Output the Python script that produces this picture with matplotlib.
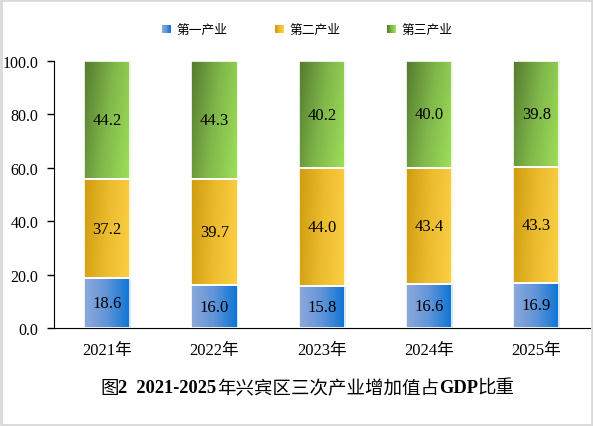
import numpy as np
import matplotlib
matplotlib.use("Agg")
import matplotlib.pyplot as plt
from matplotlib.colors import LinearSegmentedColormap
from matplotlib.patches import Rectangle

# data
years = ["2021年", "2022年", "2023年", "2024年", "2025年"]
primary = [18.6, 16.0, 15.8, 16.6, 16.9]
secondary = [37.2, 39.7, 44.0, 43.4, 43.3]
tertiary = [44.2, 44.3, 40.2, 40.0, 39.8]
series_names = ["第一产业", "第二产业", "第三产业"]
yticks = [0, 20, 40, 60, 80, 100]

serif_cjk = ["Liberation Serif", "Noto Sans CJK SC", "DejaVu Sans"]
plt.rcParams["font.family"] = serif_cjk

# gradient colours (left/top-left -> right)
grads = [
    ["#8EA9DB", "#5F94D8", "#0A74D4"],
    ["#CF9C10", "#ECBB2E", "#FDD045"],
    ["#557A30", "#80B84A", "#9FE05A"],
]
cmaps = [LinearSegmentedColormap.from_list(f"g{i}", g) for i, g in enumerate(grads)]

W, H = 593, 427
fig = plt.figure(figsize=(W / 100, H / 100), dpi=100)
ax = fig.add_axes([53.5 / W, 1 - 329 / H, (590 - 53.5) / W, (329 - 62) / H])


def make_grad(ny, nx, diag):
    xf = np.linspace(0, 1, nx).reshape(1, -1)
    yb = np.linspace(0, 1, ny).reshape(-1, 1)  # 0 at bottom (origin lower)
    g = xf * (1 - diag) + (1 - yb) * diag
    return np.clip(g, 0, 1)


x = np.arange(len(years))
width = 0.43
diags = [0.0, 0.1, 0.25]

bottom = np.zeros(len(years))
for vals, cm, dg in zip([primary, secondary, tertiary], cmaps, diags):
    bars = ax.bar(x, vals, width, bottom=bottom, facecolor="none",
                  edgecolor="white", linewidth=1.2, zorder=3)
    for b, v, bt in zip(bars, vals, bottom):
        x0 = b.get_x()
        im = ax.imshow(make_grad(32, 64, dg), cmap=cm, aspect="auto", interpolation="bilinear",
                       extent=[x0, x0 + width, bt, bt + v], origin="lower", zorder=2,
                       vmin=0, vmax=1)
        im.set_clip_path(b)
        ax.text(x0 + width / 2, bt + v / 2, f"{v:.1f}", ha="center",
                va="center", fontsize=12, color="black", zorder=4)
    bottom = bottom + np.array(vals)

ax.set_xlim(-0.5, len(years) - 0.5)
ax.set_ylim(0, 100)
ax.set_yticks(yticks)
ax.set_yticklabels([f"{t:.1f}" for t in yticks], fontsize=11.5)
ax.set_xticks(x)
ax.set_xticklabels(years, fontsize=12)
ax.tick_params(axis="x", length=0, pad=10)
ax.tick_params(axis="y", length=5, width=1, direction="out", pad=6)
ax.spines["top"].set_visible(False)
ax.spines["right"].set_visible(False)

# legend, drawn by hand so the markers keep the gradient
leg_x = [162, 275, 387]
for lx, cm, name in zip(leg_x, cmaps, series_names):
    lax = fig.add_axes([lx / W, 1 - 34 / H, 9 / W, 8 / H])
    lax.imshow(make_grad(8, 16, 0.0), cmap=cm, aspect="auto", vmin=0, vmax=1)
    lax.set_axis_off()
    fig.text((lx + 14) / W, 1 - 30 / H, name, ha="left", va="center",
             fontsize=9.2, family=["Noto Sans CJK SC"])

# title: CJK regular, Latin bold
pieces = [
    ("图", "normal", 13.3), ("2  2021-2025", "bold", 13.3), ("年兴宾区三次产业增加值占", "normal", 13.3),
    ("GDP", "bold", 13.3), ("比重", "normal", 13.3),
]
renderer = fig.canvas.get_renderer()
cur = 100
for s, wt, fs in pieces:
    fam = ["Noto Sans CJK SC"] if wt == "normal" else ["Liberation Serif"]
    t = fig.text(cur / W, 1 - 387 / H, s, ha="left", va="center_baseline",
                 fontsize=fs, fontweight=wt, family=fam)
    cur += t.get_window_extent(renderer).width

fig.patches.append(Rectangle((0.002, 0.002), 0.996, 0.995, transform=fig.transFigure,
                             fill=False, edgecolor="#D9D9D9", linewidth=2))

fig.savefig("out.png", dpi=100)
